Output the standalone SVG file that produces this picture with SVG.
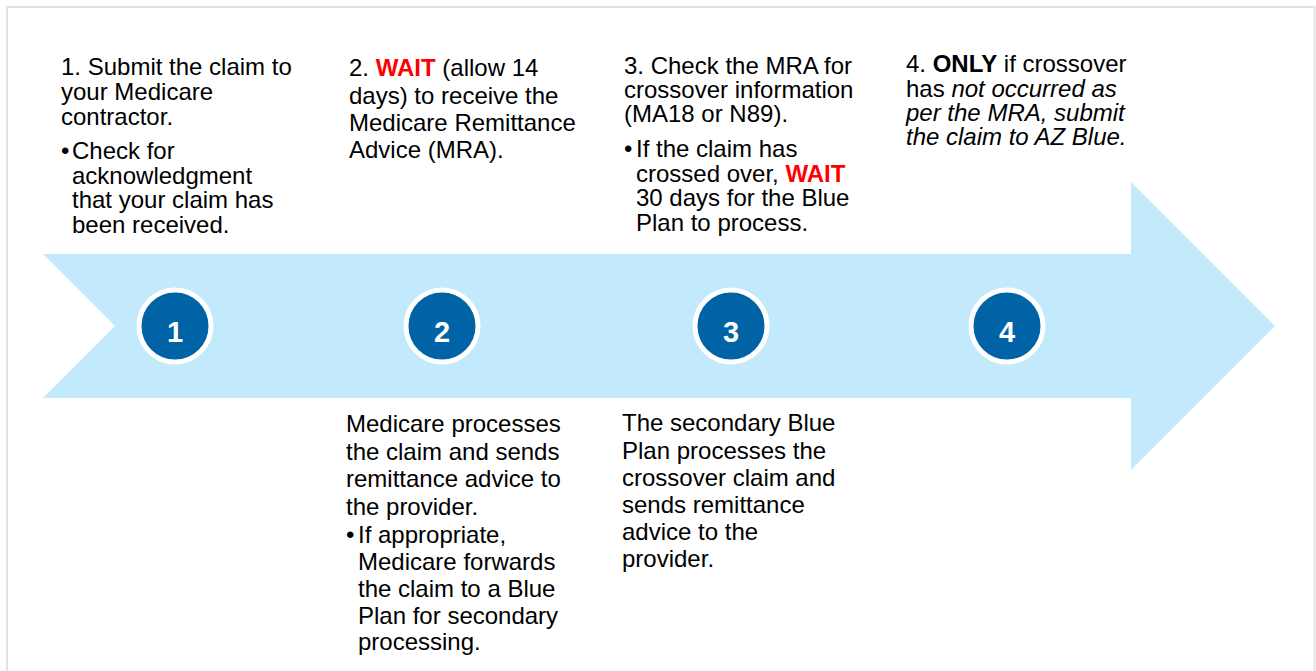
<svg xmlns="http://www.w3.org/2000/svg" width="1316" height="671" viewBox="0 0 1316 671">
  <style>
    .txt { font-family: "Liberation Sans", Arial, sans-serif; font-size: 24px; fill: #000; }
    .b { font-weight: bold; }
    .i { font-style: italic; }
    .wait { font-weight: bold; fill: #FF0000; }
    .badge { fill: #0063A6; stroke: #FFFFFF; stroke-width: 5; }
    .num { font-family: "Liberation Sans", Arial, sans-serif; font-size: 29px; font-weight: bold; fill: #FFFFFF; text-anchor: middle; }
  </style>

  <!-- page frame -->
  <rect x="0" y="0" width="1316" height="671" fill="#FFFFFF"/>
  <rect x="7" y="7" width="1307.5" height="680" fill="none" stroke="#E2E2E2" stroke-width="2"/>

  <!-- timeline arrow -->
  <g id="connectors">
    <polygon points="43,254 1131,254 1131,182 1275,326 1131,470 1131,398 43,398 115,326" fill="#C3E9FC"/>
  </g>

  <!-- step 1 -->
  <g id="step-1">
    <circle class="badge" cx="175" cy="326" r="36"/>
    <text class="num" x="175" y="342">1</text>
    <text class="txt">
      <tspan x="61" y="75">1. Submit the claim to</tspan>
      <tspan x="61" y="100">your Medicare</tspan>
      <tspan x="61" y="124.5">contractor.</tspan>
      <tspan x="61" y="159">•</tspan><tspan x="72" y="159">Check for</tspan>
      <tspan x="72" y="183.5">acknowledgment</tspan>
      <tspan x="72" y="208">that your claim has</tspan>
      <tspan x="72" y="232.5">been received.</tspan>
    </text>
  </g>

  <!-- step 2 -->
  <g id="step-2">
    <circle class="badge" cx="442" cy="326" r="36"/>
    <text class="num" x="442" y="342">2</text>
    <text class="txt">
      <tspan x="349" y="76">2. <tspan class="wait">WAIT</tspan> (allow 14</tspan>
      <tspan x="349" y="103.5">days) to receive the</tspan>
      <tspan x="349" y="131">Medicare Remittance</tspan>
      <tspan x="349" y="158">Advice (MRA).</tspan>
    </text>
    <text class="txt">
      <tspan x="346" y="432">Medicare processes</tspan>
      <tspan x="346" y="459.5">the claim and sends</tspan>
      <tspan x="346" y="487">remittance advice to</tspan>
      <tspan x="346" y="514.5">the provider.</tspan>
      <tspan x="346" y="543">•</tspan><tspan x="358" y="543">If appropriate,</tspan>
      <tspan x="358" y="570">Medicare forwards</tspan>
      <tspan x="358" y="597">the claim to a Blue</tspan>
      <tspan x="358" y="623.5">Plan for secondary</tspan>
      <tspan x="358" y="650">processing.</tspan>
    </text>
  </g>

  <!-- step 3 -->
  <g id="step-3">
    <circle class="badge" cx="731" cy="326" r="36"/>
    <text class="num" x="731" y="342">3</text>
    <text class="txt">
      <tspan x="624" y="73.5">3. Check the MRA for</tspan>
      <tspan x="624" y="97.5">crossover information</tspan>
      <tspan x="624" y="122">(MA18 or N89).</tspan>
      <tspan x="624" y="157">•</tspan><tspan x="636" y="157">If the claim has</tspan>
      <tspan x="636" y="181.5">crossed over, <tspan class="wait">WAIT</tspan></tspan>
      <tspan x="636" y="206">30 days for the Blue</tspan>
      <tspan x="636" y="231">Plan to process.</tspan>
    </text>
    <text class="txt">
      <tspan x="622" y="431">The secondary Blue</tspan>
      <tspan x="622" y="458.5">Plan processes the</tspan>
      <tspan x="622" y="485.5">crossover claim and</tspan>
      <tspan x="622" y="513">sends remittance</tspan>
      <tspan x="622" y="540">advice to the</tspan>
      <tspan x="622" y="567">provider.</tspan>
    </text>
  </g>

  <!-- step 4 -->
  <g id="step-4">
    <circle class="badge" cx="1007" cy="326" r="36"/>
    <text class="num" x="1007" y="342">4</text>
    <text class="txt">
      <tspan x="906" y="72">4. <tspan class="b">ONLY</tspan> if crossover</tspan>
      <tspan x="906" y="96.5">has <tspan class="i">not occurred as</tspan></tspan>
      <tspan x="906" y="120.5" class="i">per the MRA, submit</tspan>
      <tspan x="906" y="145" class="i">the claim to AZ Blue.</tspan>
    </text>
  </g>
</svg>
